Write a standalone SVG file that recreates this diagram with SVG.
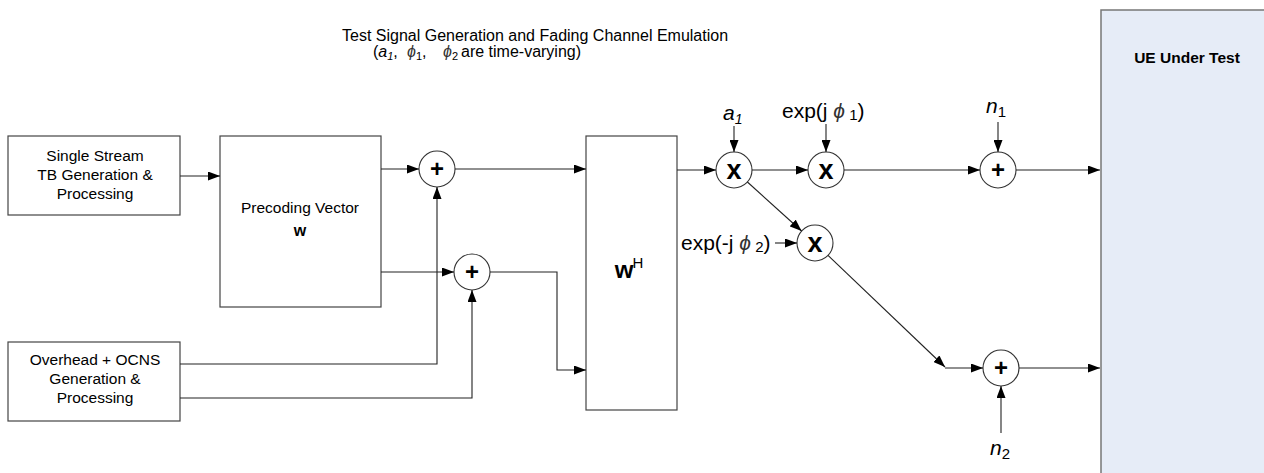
<svg xmlns="http://www.w3.org/2000/svg" width="1264" height="473" viewBox="0 0 1264 473">
<style>
text{font-family:"Liberation Sans",Arial,sans-serif;fill:#000}
.box{fill:#fff;stroke:#444;stroke-width:1.2}
.lbl{font-size:15.5px;text-anchor:middle}
.ln{fill:none;stroke:#222;stroke-width:1.1}
.circ{fill:#fff;stroke:#333;stroke-width:1.1}
.plus{font-size:24px;font-weight:bold;text-anchor:middle}
.mul{font-size:27px;font-weight:bold;text-anchor:middle}
.sym{font-size:21px}
.it{font-style:italic}
.ttl{font-size:16px}
.phi{font-style:italic;fill:#333}
</style>
<defs>
<marker id="ah" markerUnits="userSpaceOnUse" markerWidth="12" markerHeight="9" refX="12" refY="4.5" orient="auto">
<path d="M0,0 L12,4.5 L0,9 z" fill="#000"/>
</marker>
</defs>
<rect width="1264" height="473" fill="#fff"/>

<g id="title">
<text class="ttl" x="342" y="41">Test Signal Generation and Fading Channel Emulation</text>
<text class="ttl" x="373" y="57">(<tspan class="it">a</tspan><tspan class="it" font-size="11" dy="3">1</tspan><tspan dy="-3">,</tspan></text>
<text class="ttl" x="407" y="57"><tspan class="phi">ϕ</tspan><tspan font-size="11" dy="3">1</tspan><tspan dy="-3">,</tspan></text>
<text class="ttl" x="443" y="57"><tspan class="phi">ϕ</tspan><tspan font-size="11" dy="3">2</tspan></text>
<text class="ttl" x="461" y="57">are time-varying)</text>
</g>

<g id="ue">
<rect x="1101" y="10" width="175" height="470" fill="#e6ecf7" stroke="#777" stroke-width="1.5"/>
<text x="1187" y="63" style="font-size:15.5px;font-weight:bold;text-anchor:middle">UE Under Test</text>
</g>

<g id="single-stream">
<rect class="box" x="8" y="136" width="172" height="79"/>
<text class="lbl" x="95" y="161">Single Stream</text>
<text class="lbl" x="95" y="180">TB Generation &amp;</text>
<text class="lbl" x="95" y="199">Processing</text>
</g>

<g id="overhead">
<rect class="box" x="8" y="342" width="172" height="79"/>
<text class="lbl" x="95" y="365">Overhead + OCNS</text>
<text class="lbl" x="95" y="384">Generation &amp;</text>
<text class="lbl" x="95" y="403">Processing</text>
</g>

<g id="precoding">
<rect class="box" x="220" y="136" width="161" height="171"/>
<text class="lbl" x="300" y="213">Precoding Vector</text>
<text x="300" y="236" style="font-size:16px;font-weight:bold;text-anchor:middle">w</text>
</g>

<g id="wh">
<rect class="box" x="586" y="136" width="91" height="274"/>
<text x="629" y="278" style="font-size:24px;font-weight:bold;text-anchor:middle">w<tspan font-weight="normal" font-size="15" dy="-10" dx="-1">H</tspan></text>
</g>

<g id="sum1"><circle class="circ" cx="437" cy="169" r="18"/><text class="plus" x="437" y="177">+</text></g>
<g id="sum2"><circle class="circ" cx="472" cy="272" r="18"/><text class="plus" x="472" y="280">+</text></g>
<g id="mul1"><circle class="circ" cx="734" cy="170" r="18"/><text class="mul" x="734" y="179">x</text></g>
<g id="mul2"><circle class="circ" cx="826" cy="170" r="18"/><text class="mul" x="826" y="179">x</text></g>
<g id="mul3"><circle class="circ" cx="815" cy="243" r="18"/><text class="mul" x="815" y="252">x</text></g>
<g id="sum3"><circle class="circ" cx="998" cy="170" r="18"/><text class="plus" x="998" y="178">+</text></g>
<g id="sum4"><circle class="circ" cx="1001" cy="368" r="18"/><text class="plus" x="1001" y="376">+</text></g>

<g id="labels">
<text class="sym it" x="723" y="120">a<tspan font-size="14" dy="4">1</tspan></text>
<text class="sym" x="782" y="118">exp(j <tspan class="phi">ϕ</tspan><tspan font-size="15" dy="2"> 1</tspan><tspan dy="-2">)</tspan></text>
<text class="sym" x="681" y="250">exp(-j <tspan class="phi">ϕ</tspan><tspan font-size="15" dy="2"> 2</tspan><tspan dy="-2">)</tspan></text>
<text class="sym it" x="986" y="113">n<tspan font-size="15" font-style="normal" dy="4">1</tspan></text>
<text class="sym it" x="990" y="455">n<tspan font-size="15" font-style="normal" dy="4">2</tspan></text>
</g>

<g id="connectors">
<path class="ln" d="M180,176 H220" marker-end="url(#ah)"/>
<path class="ln" d="M381,169 H419" marker-end="url(#ah)"/>
<path class="ln" d="M381,272 H454" marker-end="url(#ah)"/>
<path class="ln" d="M180,364 H437 V187" marker-end="url(#ah)"/>
<path class="ln" d="M180,398 H472 V290" marker-end="url(#ah)"/>
<path class="ln" d="M455,169 H586" marker-end="url(#ah)"/>
<path class="ln" d="M490,272 H557 V370 H586" marker-end="url(#ah)"/>
<path class="ln" d="M677,170 H716" marker-end="url(#ah)"/>
<path class="ln" d="M734,126 V152" marker-end="url(#ah)"/>
<path class="ln" d="M752,170 H808" marker-end="url(#ah)"/>
<path class="ln" d="M826,124 V152" marker-end="url(#ah)"/>
<path class="ln" d="M747.4,182 L801.6,231" marker-end="url(#ah)"/>
<path class="ln" d="M775,243 H797" marker-end="url(#ah)"/>
<path class="ln" d="M844,170 H980" marker-end="url(#ah)"/>
<path class="ln" d="M998,122 V152" marker-end="url(#ah)"/>
<path class="ln" d="M1016,170 H1100" marker-end="url(#ah)"/>
<path class="ln" d="M828,255.4 L945,367" marker-end="url(#ah)"/>
<path class="ln" d="M945,368 H983" marker-end="url(#ah)"/>
<path class="ln" d="M1001,433 V386" marker-end="url(#ah)"/>
<path class="ln" d="M1019,368 H1100" marker-end="url(#ah)"/>
</g>
</svg>
